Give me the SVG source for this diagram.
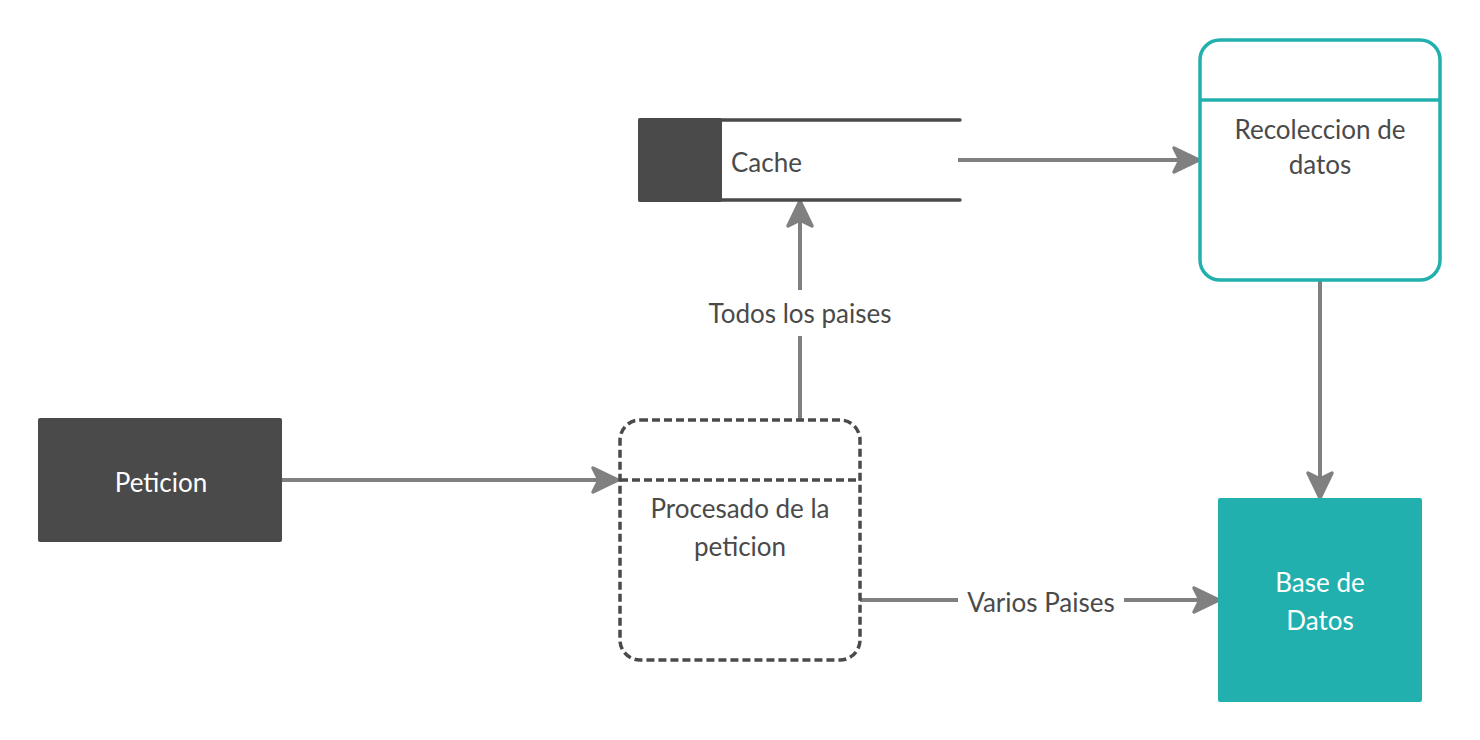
<svg xmlns="http://www.w3.org/2000/svg" width="1480" height="740" viewBox="0 0 1480 740">
<defs>
<style>
text{font-family:Lato,"Open Sans","Liberation Sans",sans-serif;font-size:26px;fill:#4a4a4a}
.w{fill:#ffffff}
.c{text-anchor:middle}
.conn{stroke:#808080;stroke-width:4;fill:none}
</style>
<marker id="arr" markerUnits="userSpaceOnUse" markerWidth="40" markerHeight="40" viewBox="-30 -20 40 40" refX="0" refY="0" orient="auto">
<path d="M0,0 L-25,-12 L-19,0 L-25,12 Z" fill="#808080" stroke="#808080" stroke-width="3.5" stroke-linejoin="round"/>
</marker>
</defs>
<rect width="1480" height="740" fill="#ffffff"/>
<g id="connectors">
<line class="conn" x1="280" y1="480" x2="618" y2="480" marker-end="url(#arr)"/>
<line class="conn" x1="800" y1="420" x2="800" y2="336"/>
<line class="conn" x1="800" y1="290" x2="800" y2="201" marker-end="url(#arr)"/>
<text class="c" x="800" y="323">Todos los paises</text>
<line class="conn" x1="958" y1="160" x2="1199" y2="160" marker-end="url(#arr)"/>
<line class="conn" x1="1320" y1="280" x2="1320" y2="498" marker-end="url(#arr)"/>
<line class="conn" x1="860" y1="600" x2="958" y2="600"/>
<line class="conn" x1="1124" y1="600" x2="1219" y2="600" marker-end="url(#arr)"/>
<text class="c" x="1041" y="612">Varios Paises</text>
</g>
<g id="peticion">
<rect x="38" y="418" width="244" height="124" rx="2" fill="#4a4a4a"/>
<text class="c w" x="161" y="492">Peticion</text>
</g>
<g id="cache">
<rect x="638" y="118" width="84" height="84" rx="2" fill="#4a4a4a"/>
<line x1="640" y1="120" x2="960" y2="120" stroke="#4a4a4a" stroke-width="3.5" stroke-linecap="round"/>
<line x1="640" y1="200" x2="960" y2="200" stroke="#4a4a4a" stroke-width="3.5" stroke-linecap="round"/>
<text x="731" y="172">Cache</text>
</g>
<g id="recoleccion">
<rect x="1200" y="40" width="240" height="240" rx="20" fill="#ffffff" stroke="#22b0ae" stroke-width="3.5"/>
<line x1="1200" y1="100" x2="1440" y2="100" stroke="#22b0ae" stroke-width="3.5"/>
<text class="c" x="1320" y="139">Recoleccion de</text>
<text class="c" x="1320" y="174">datos</text>
</g>
<g id="procesado">
<rect x="620" y="420" width="240" height="240" rx="20" fill="none" stroke="#4a4a4a" stroke-width="3.5" stroke-dasharray="8,4"/>
<line x1="620" y1="480" x2="860" y2="480" stroke="#4a4a4a" stroke-width="3.5" stroke-dasharray="8,4"/>
<text class="c" x="740" y="518">Procesado de la</text>
<text class="c" x="740" y="556">peticion</text>
</g>
<g id="basedatos">
<rect x="1218" y="498" width="204" height="204" rx="2" fill="#22b0ae"/>
<text class="c w" x="1320" y="592">Base de</text>
<text class="c w" x="1320" y="630">Datos</text>
</g>
</svg>
